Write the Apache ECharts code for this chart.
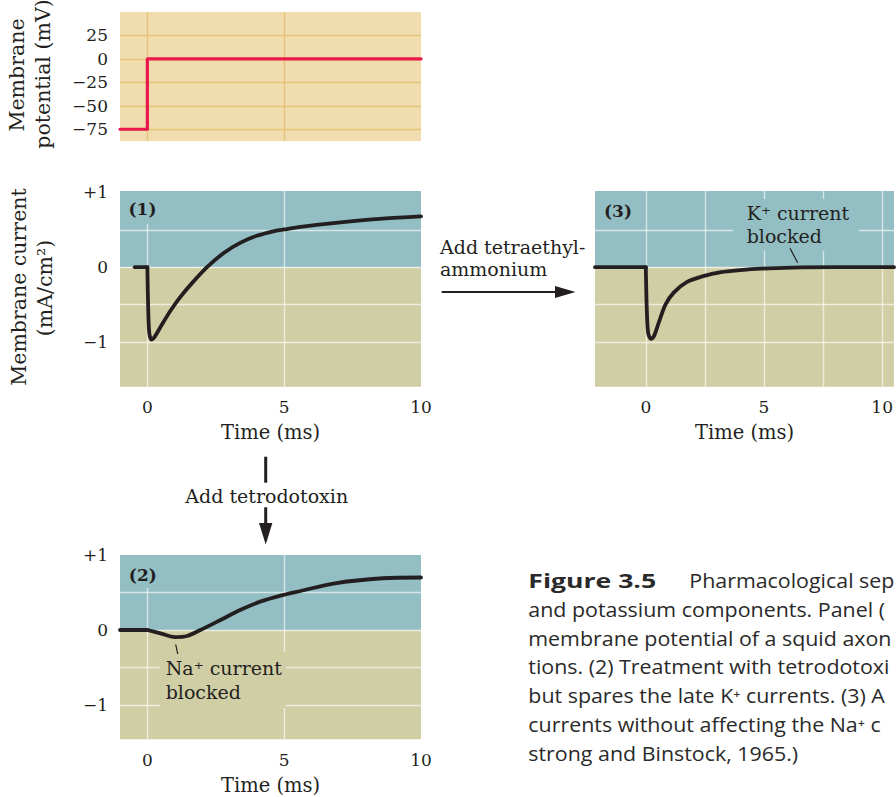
<!DOCTYPE html>
<html><head><meta charset="utf-8">
<script src="https://cdn.jsdelivr.net/npm/echarts@6/dist/echarts.min.js"></script>
<style>html,body{margin:0;padding:0;background:#fff;}#c{width:896px;height:797px;}</style>
</head><body><div id="c"></div>
<script>
// ---- data ----
const stepTime = [-1, 0, 0, 10];
const stepVoltage = [-75, -75, 0, 0];

const controlTime = [-0.46, 0, 0.03, 0.07, 0.15, 0.27, 0.48, 0.85, 1.2, 1.64, 2.18, 2.79, 3.39, 4.0, 4.6, 5.0, 5.6, 6.8, 8.6, 10];
const controlCurrent = [0, 0, -0.55, -0.88, -0.97, -0.93, -0.80, -0.58, -0.40, -0.21, 0, 0.19, 0.325, 0.42, 0.48, 0.505, 0.54, 0.59, 0.65, 0.68];

const ttxTime = [-1, 0, 0.48, 1.0, 1.45, 1.94, 2.67, 3.39, 4.12, 5.0, 5.6, 6.8, 8.6, 10];
const ttxCurrent = [0, 0, -0.045, -0.095, -0.08, 0, 0.133, 0.267, 0.378, 0.47, 0.52, 0.62, 0.69, 0.70];

const teaTime = [-2.15, 0, 0.04, 0.1, 0.22, 0.35, 0.55, 0.83, 1.18, 1.73, 2.43, 3.19, 4.0, 4.86, 6.2, 8, 10.5];
const teaCurrent = [0, 0, -0.55, -0.88, -0.96, -0.92, -0.74, -0.50, -0.34, -0.2, -0.12, -0.067, -0.04, -0.02, -0.005, 0, 0];

const voltageTicks = [-75, -50, -25, 0, 25];
const currentLabelTicks = [-1, 0, 1];
const currentGridTicks = [-1, -0.5, 0, 0.5];
const timeLabelTicks = [0, 5, 10];
const timeGridTicks = [0, 5];
const teaTimeGridTicks = [0, 2.5, 5, 7.5, 10];

const captionLines = [
  'and potassium components. Panel (',
  'membrane potential of a squid axon',
  'tions. (2) Treatment with tetrodotoxi',
  'but spares the late K\u207A currents. (3) A',
  'currents without affecting the Na\u207A c',
  'strong and Binstock, 1965.)'
];

// ---- styles ----
const INK = '#231F20';
const SERIF = '"DejaVu Serif", serif';
const SANS = '"Open Sans", sans-serif';
const BLUE = '#93BEC3';
const TAN = '#D0CEA5';
const BEIGE = '#F0DCAE';
const GRID_TAN = '#E6C27A';
const GRID_WHITE = 'rgba(255,255,255,0.62)';

const zip = (a, b) => a.map((v, i) => [v, b[i]]);
const signFmt = v => v > 0 ? '+' + v : (v < 0 ? '\u2212' + Math.abs(v) : '0');
const minusFmt = v => v < 0 ? '\u2212' + Math.abs(v) : String(v);

const ranges = [
  {x: [-1, 10], y: [-87.5, 50]},
  {x: [-1, 10], y: [-1.6, 1.02]},
  {x: [-2.15, 10.5], y: [-1.6, 1.02]},
  {x: [-1, 10], y: [-1.457, 1.0]}
];

function xAxis(i, gridVals, labelVals, named, gridColor) {
  return {
    type: 'value', gridIndex: i, min: ranges[i].x[0], max: ranges[i].x[1], z: 3,
    axisLine: {show: false},
    axisTick: {show: false, customValues: gridVals},
    axisLabel: labelVals ? {show: true, customValues: labelVals, margin: 12, fontFamily: SERIF, fontSize: 17, color: INK} : {show: false},
    splitLine: {show: true, lineStyle: {color: gridColor, width: 1.4}},
    name: named ? 'Time (ms)' : '', nameLocation: 'middle', nameGap: 36,
    nameTextStyle: {fontFamily: SERIF, fontSize: 19.5, color: INK}
  };
}
function yAxis(i, gridVals, labelVals, fmt, gridColor) {
  return {
    type: 'value', gridIndex: i, min: ranges[i].y[0], max: ranges[i].y[1], z: 3,
    axisLine: {show: false},
    axisTick: {show: false, customValues: gridVals},
    axisLabel: labelVals ? {show: true, customValues: labelVals, margin: 12, fontFamily: SERIF, fontSize: 17, color: INK, formatter: fmt} : {show: false},
    splitLine: {show: true, lineStyle: {color: gridColor, width: 1.4}}
  };
}
function bgAreas(i) {
  const r = ranges[i];
  if (i === 0) {
    return [[{xAxis: r.x[0], yAxis: r.y[0], itemStyle: {color: BEIGE, opacity: 1}}, {xAxis: r.x[1], yAxis: r.y[1]}]];
  }
  return [
    [{xAxis: r.x[0], yAxis: 0, itemStyle: {color: BLUE, opacity: 1}}, {xAxis: r.x[1], yAxis: r.y[1]}],
    [{xAxis: r.x[0], yAxis: r.y[0], itemStyle: {color: TAN, opacity: 1}}, {xAxis: r.x[1], yAxis: 0}]
  ];
}
function lineSeries(i, data, color, width, smooth, withBg) {
  const s = {
    type: 'line', xAxisIndex: i, yAxisIndex: i, data: data, showSymbol: false, symbol: 'none',
    smooth: smooth, z: 10, silent: true,
    lineStyle: {color: color, width: width, cap: 'round', join: 'round'}
  };
  if (withBg) s.markArea = {silent: true, z: 1, label: {show: false}, data: bgAreas(i)};
  return s;
}
// baseline (flat, unsmoothed) + response (smoothed) from one named array pair
function traceSeries(i, t, v) {
  const d = zip(t, v);
  return [
    lineSeries(i, d.slice(0, 2), INK, 3.8, false, false),
    lineSeries(i, d.slice(1), INK, 3.8, 0.3, true)
  ];
}

function txt(x, y, text, opts) {
  opts = opts || {};
  return {
    type: 'text', x: x, y: y, z: opts.z || 50, rotation: opts.rotation || 0,
    scaleX: opts.scaleX || 1,
    style: Object.assign({
      text: text, font: (opts.weight || 'normal') + ' ' + (opts.size || 19) + 'px ' + (opts.family || SERIF),
      fill: opts.fill || INK,
      align: opts.align || 'left', verticalAlign: opts.valign || 'middle',
      textAlign: opts.align || 'left', textVerticalAlign: opts.valign || 'middle'
    }, opts.extra || {})
  };
}
function seg(x1, y1, x2, y2, w) {
  return {type: 'line', z: 50, shape: {x1: x1, y1: y1, x2: x2, y2: y2}, style: {stroke: INK, lineWidth: w}};
}
function tri(pts) {
  return {type: 'polygon', z: 50, shape: {points: pts}, style: {fill: INK}};
}

const graphics = [
  // y axis titles
  txt(17, 75, 'Membrane', {rotation: Math.PI / 2, align: 'center', size: 20.5}),
  txt(43, 74, 'potential (mV)', {rotation: Math.PI / 2, align: 'center', size: 20.5}),
  txt(19, 287, 'Membrane current', {rotation: Math.PI / 2, align: 'center', size: 20.5}),
  txt(45, 288, '(mA/cm\u00B2)', {rotation: Math.PI / 2, align: 'center', size: 20.5}),
  // panel labels
  txt(142.5, 191, '(1)', {weight: 'bold', size: 17, align: 'center', valign: 'top',
    extra: {backgroundColor: BLUE, padding: [8, 7, 5, 7], lineHeight: 20}}),
  txt(142.8, 555, '(2)', {weight: 'bold', size: 17, align: 'center', valign: 'top',
    extra: {backgroundColor: BLUE, padding: [10, 7, 3, 7], lineHeight: 20}}),
  txt(618, 210.7, '(3)', {weight: 'bold', size: 17, align: 'center'}),
  // annotations
  txt(733, 199, 'K\u207A current\nblocked', {valign: 'top',
    extra: {backgroundColor: BLUE, padding: [2, 10, 3, 13.7], lineHeight: 23.4}}),
  seg(790, 248.3, 797.7, 262.7, 1.2),
  txt(160, 652, 'Na\u207A current\nblocked', {valign: 'top',
    extra: {backgroundColor: TAN, padding: [4.6, 4, 4.6, 5.7], lineHeight: 23.4}}),
  seg(175.7, 644.3, 177.7, 654, 1.2),
  // tetraethylammonium arrow
  txt(440, 246.7, 'Add tetraethyl-'),
  txt(440, 269.3, 'ammonium'),
  seg(441.7, 292, 560, 292, 2),
  tri([[555, 286], [575.5, 292], [555, 298]]),
  // tetrodotoxin arrow
  seg(265.7, 456.7, 265.7, 482.7, 3),
  txt(266.7, 495.7, 'Add tetrodotoxin', {align: 'center'}),
  seg(265.7, 507.3, 265.7, 530, 3),
  tri([[259, 523], [265.7, 544.5], [272.4, 523]]),
  // caption
  txt(528.3, 580, 'Figure 3.5', {family: SANS, weight: 'bold', size: 20, fill: '#2A2A2A', scaleX: 1.33}),
  txt(689.3, 580, 'Pharmacological sep', {family: SANS, size: 20, fill: '#2A2A2A', scaleX: 1.07})
];
captionLines.forEach((s, k) => {
  graphics.push(txt(528.3, 608.9 + k * 28.9, s, {family: SANS, size: 20, fill: '#2A2A2A', scaleX: 1.07}));
});

const option = {
  animation: false,
  backgroundColor: '#ffffff',
  grid: [
    {left: 120, top: 12, width: 301, height: 129},
    {left: 120, top: 191, width: 301, height: 195.7},
    {left: 595, top: 191, width: 303.6, height: 195.7},
    {left: 120, top: 555, width: 301, height: 184.3}
  ],
  xAxis: [
    xAxis(0, timeGridTicks, null, false, GRID_TAN),
    xAxis(1, timeGridTicks, timeLabelTicks, true, GRID_WHITE),
    xAxis(2, teaTimeGridTicks, timeLabelTicks, true, GRID_WHITE),
    xAxis(3, timeGridTicks, timeLabelTicks, true, GRID_WHITE)
  ],
  yAxis: [
    yAxis(0, voltageTicks, voltageTicks, minusFmt, GRID_TAN),
    yAxis(1, currentGridTicks, currentLabelTicks, signFmt, GRID_WHITE),
    yAxis(2, currentGridTicks, null, null, GRID_WHITE),
    yAxis(3, currentGridTicks, currentLabelTicks, signFmt, GRID_WHITE)
  ],
  series: [
    lineSeries(0, zip(stepTime, stepVoltage), '#E8194B', 3.2, false, true)
  ].concat(
    traceSeries(1, controlTime, controlCurrent),
    traceSeries(2, teaTime, teaCurrent),
    traceSeries(3, ttxTime, ttxCurrent)
  ),
  graphic: {elements: graphics}
};
const chart = echarts.init(document.getElementById('c'), null, {renderer: 'svg', width: 896, height: 797});
chart.setOption(option);
</script>
</body></html>
